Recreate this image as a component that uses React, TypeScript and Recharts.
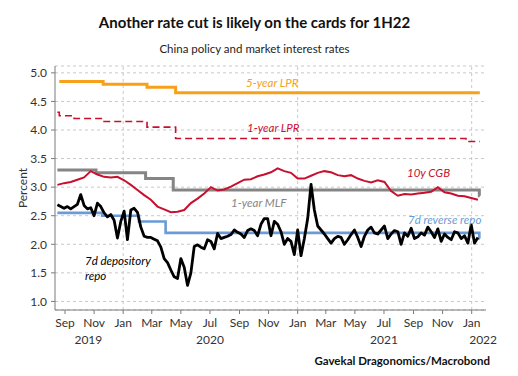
import { LineChart, Line, XAxis, YAxis, CartesianGrid, ReferenceLine } from 'recharts';

const FONT = 'Lato, "Open Sans", sans-serif';
const DAY = 86400000;
const day = (s: string) => Date.parse(s + 'T00:00:00Z');

// policy rates: step changes (date the new rate applies, rate)
const lpr5yDates = ['2019-08-20', '2019-11-20', '2020-02-20', '2020-04-20', '2022-01-18'];
const lpr5yValues = [4.85, 4.8, 4.75, 4.65, 4.65];

const lpr1yDates = ['2019-08-16', '2019-08-20', '2019-09-20', '2019-11-20', '2020-02-20', '2020-04-20', '2021-12-20', '2022-01-18'];
const lpr1yValues = [4.31, 4.25, 4.2, 4.15, 4.05, 3.85, 3.8, 3.8];

const mlfDates = ['2019-08-16', '2019-11-05', '2020-02-17', '2020-04-15', '2022-01-17', '2022-01-18'];
const mlfValues = [3.3, 3.25, 3.15, 2.95, 2.85, 2.85];

const rrDates = ['2019-08-16', '2019-11-18', '2020-02-03', '2020-03-30', '2022-01-17', '2022-01-18'];
const rrValues = [2.55, 2.5, 2.4, 2.2, 2.1, 2.1];

// market rates
const cgbStart = '2019-08-16'; // every 2 weeks
const cgbValues = [
  3.04, 3.07, 3.09, 3.13, 3.17, 3.28, 3.22, 3.18, 3.17, 3.18, 3.12, 3.04, 2.95, 2.86, 2.78, 2.66,
  2.61, 2.56, 2.57, 2.6, 2.72, 2.8, 2.89, 3.0, 2.94, 2.96, 3.01, 3.07, 3.13, 3.14, 3.19, 3.22,
  3.26, 3.33, 3.28, 3.25, 3.15, 3.15, 3.2, 3.25, 3.28, 3.26, 3.21, 3.19, 3.21, 3.15, 3.11, 3.08,
  3.12, 3.09, 2.93, 2.85, 2.88, 2.87, 2.89, 2.9, 2.92, 3.0, 2.91, 2.89, 2.85, 2.84, 2.81, 2.78,
];

const repoStart = '2019-08-16'; // weekly
const repoValues = [
  2.69, 2.66, 2.63, 2.66, 2.62, 2.66, 2.7, 2.87, 2.68, 2.62, 2.64, 2.5, 2.72, 2.66, 2.55, 2.48,
  2.52, 2.42, 2.11, 2.4, 2.58, 2.08, 2.6, 2.63, 2.56, 2.3, 2.14, 2.12, 2.12, 2.09, 2.06, 1.95,
  1.75, 1.68, 1.55, 1.43, 1.4, 1.75, 1.6, 1.28, 1.5, 1.96, 1.99, 1.95, 1.92, 2.08, 2.05, 1.92,
  2.19, 2.1, 2.12, 2.14, 2.17, 2.25, 2.21, 2.18, 2.12, 2.24, 2.27, 2.24, 2.15, 2.35, 2.45, 2.45,
  2.15, 2.4, 2.35, 2.22, 2.0, 2.1, 2.05, 1.82, 2.25, 1.8, 2.1, 2.45, 3.05, 2.6, 2.32, 2.25,
  2.18, 2.1, 2.02, 2.1, 2.14, 2.12, 2.0, 2.08, 2.17, 2.25, 2.12, 1.96, 2.14, 2.25, 2.3, 2.2,
  2.18, 2.25, 2.32, 2.1, 2.18, 2.24, 2.22, 2.0, 2.2, 2.14, 2.28, 2.1, 2.13, 2.2, 2.16, 2.3,
  2.22, 2.12, 2.27, 2.05, 2.18, 2.12, 2.08, 2.22, 2.2, 2.1, 2.15, 2.02, 2.34, 2.02, 2.12,
];

const MONTHS = ['Jan', 'Feb', 'Mar', 'Apr', 'May', 'Jun', 'Jul', 'Aug', 'Sep', 'Oct', 'Nov', 'Dec'];
const monthTickDates = [
  '2019-09-01', '2019-11-01', '2020-01-01', '2020-03-01', '2020-05-01', '2020-07-01', '2020-09-01',
  '2020-11-01', '2021-01-01', '2021-03-01', '2021-05-01', '2021-07-01', '2021-09-01', '2021-11-01',
  '2022-01-01',
];
const yearTickDates = ['2019-10-20', '2020-07-01', '2021-07-01', '2022-01-25'];
const yearLabels = ['2019', '2020', '2021', '2022'];
const yearGridDates = ['2020-01-01', '2021-01-01', '2022-01-01'];
const yTicks = [1.0, 1.5, 2.0, 2.5, 3.0, 3.5, 4.0, 4.5, 5.0];

const xDomain = [day('2019-08-11'), day('2022-01-31')];
const yDomain = [0.85, 5.12];

const steps = (dates: string[], values: number[]) => dates.map((d, i) => ({ x: day(d), y: values[i] }));
const every = (start: string, stepDays: number, values: number[]) =>
  values.map((v, i) => ({ x: day(start) + i * stepDays * DAY, y: v }));

const lpr5y = steps(lpr5yDates, lpr5yValues);
const lpr1y = steps(lpr1yDates, lpr1yValues);
const mlf = steps(mlfDates, mlfValues);
const rr = steps(rrDates, rrValues);
const cgb = every(cgbStart, 14, cgbValues);
const repo = every(repoStart, 7, repoValues);

const AXIS = '#7a7a7a';
const TEXT = '#333';
const tick = { fontSize: 12, fill: TEXT, fontFamily: FONT };

const label = (color: string): React.CSSProperties => ({
  position: 'absolute',
  fontStyle: 'italic',
  fontSize: 11.5,
  lineHeight: '12px',
  color,
  whiteSpace: 'nowrap',
});

export default function App() {
  return (
    <div style={{ position: 'absolute', left: 0, top: 0, width: 518, height: 376, background: '#fff', fontFamily: FONT }}>
      <div style={{ position: 'absolute', top: 13, left: 0, width: 509, textAlign: 'center', fontSize: 15, fontWeight: 700, color: '#111' }}>
        Another rate cut is likely on the cards for 1H22
      </div>
      <div style={{ position: 'absolute', top: 42, left: 0, width: 509, textAlign: 'center', fontSize: 11.5, color: '#222' }}>
        China policy and market interest rates
      </div>

      <LineChart width={518} height={376} margin={{ top: 66, right: 32, left: 20, bottom: 22 }}>
        <CartesianGrid vertical={false} stroke="#c8c8c8" strokeDasharray="3 3" />
        {yearGridDates.map((d) => (
          <ReferenceLine key={d} x={day(d)} stroke="#c8c8c8" strokeDasharray="3 3" />
        ))}
        <XAxis
          dataKey="x"
          type="number"
          domain={xDomain}
          allowDataOverflow
          ticks={monthTickDates.map(day)}
          interval={0}
          tickFormatter={(v: number) => MONTHS[new Date(v).getUTCMonth()]}
          tick={tick}
          tickSize={4}
          tickMargin={4}
          tickLine={{ stroke: AXIS }}
          axisLine={{ stroke: AXIS }}
          height={22}
        />
        <XAxis
          xAxisId="year"
          dataKey="x"
          type="number"
          domain={xDomain}
          allowDataOverflow
          ticks={yearTickDates.map(day)}
          interval={0}
          tickFormatter={(_v: number, i: number) => yearLabels[i]}
          tick={tick}
          tickSize={0}
          tickMargin={3}
          tickLine={false}
          axisLine={false}
          height={22}
        />
        <XAxis xAxisId="top" orientation="top" dataKey="x" type="number" domain={xDomain} allowDataOverflow tick={false} tickLine={false} axisLine={{ stroke: AXIS }} height={0} />
        <YAxis
          type="number"
          domain={yDomain}
          allowDataOverflow
          ticks={yTicks}
          interval={0}
          tickFormatter={(v: number) => v.toFixed(1)}
          tick={tick}
          tickSize={4}
          tickMargin={4}
          tickLine={{ stroke: AXIS }}
          axisLine={{ stroke: AXIS }}
          width={35}
        />
        <YAxis yAxisId="right" orientation="right" type="number" domain={yDomain} allowDataOverflow tick={false} tickLine={false} axisLine={{ stroke: AXIS }} width={0} />

        <Line data={lpr5y} dataKey="y" type="stepAfter" stroke="#f7a11a" strokeWidth={3} dot={false} isAnimationActive={false} />
        <Line data={lpr1y} dataKey="y" type="stepAfter" stroke="#c8102e" strokeWidth={1.6} strokeDasharray="7 4" dot={false} isAnimationActive={false} />
        <Line data={mlf} dataKey="y" type="stepAfter" stroke="#858585" strokeWidth={3} dot={false} isAnimationActive={false} />
        <Line data={rr} dataKey="y" type="stepAfter" stroke="#6a9bd6" strokeWidth={2.6} dot={false} isAnimationActive={false} />
        <Line data={cgb} dataKey="y" type="linear" stroke="#c8102e" strokeWidth={2} dot={false} isAnimationActive={false} />
        <Line data={repo} dataKey="y" type="linear" stroke="#000" strokeWidth={2.8} strokeLinejoin="round" dot={false} isAnimationActive={false} />
      </LineChart>

      <div style={{ ...label('#f7a11a'), left: 246, top: 77 }}>5-year LPR</div>
      <div style={{ ...label('#c8102e'), left: 247, top: 122 }}>1-year LPR</div>
      <div style={{ ...label('#c8102e'), left: 407, top: 167 }}>10y CGB</div>
      <div style={{ ...label('#858585'), left: 231, top: 197 }}>1-year MLF</div>
      <div style={{ ...label('#6a9bd6'), left: 408, top: 214 }}>7d reverse repo</div>
      <div style={{ ...label('#000'), left: 85, top: 253, lineHeight: '15px' }}>
        7d depository
        <br />
        repo
      </div>

      <div style={{ position: 'absolute', left: 22, top: 188, transform: 'translate(-50%, -50%) rotate(-90deg)', fontSize: 12, color: TEXT }}>
        Percent
      </div>
      <div style={{ position: 'absolute', right: 28, top: 354, fontSize: 11.5, fontWeight: 700, color: '#111' }}>
        Gavekal Dragonomics/Macrobond
      </div>
    </div>
  );
}
